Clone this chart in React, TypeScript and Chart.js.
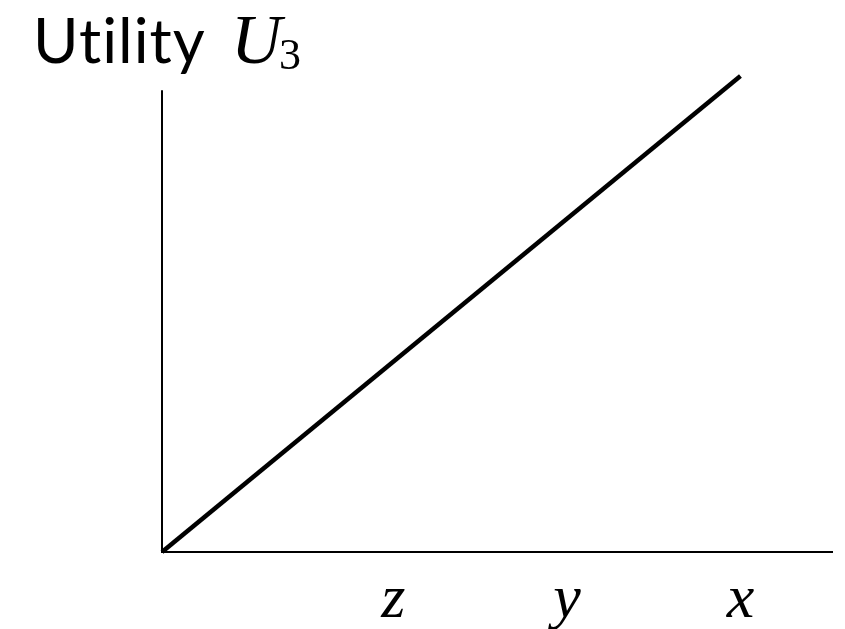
import React, { useEffect, useRef } from "react";
import { Chart, registerables } from "chart.js";

Chart.register(...registerables);

// Data
const lineX = [0, 1];
const lineY = [0, 1];
const tickValues = [0.4, 0.7, 1.0];
const tickLabels = ["z", "y", "x"];
const xMax = 1.16;
const yMax = 1.0;
const yAxisTop = 0.97;
const titleText = "Utility";
const titleSymbol = "U";
const titleSub = "3";

const axesPlugin = {
  id: "customAxes",
  afterDatasetsDraw(chart: any) {
    const { ctx, scales } = chart;
    const xs = scales.x;
    const ys = scales.y;
    const x0 = xs.getPixelForValue(0);
    const y0 = ys.getPixelForValue(0);
    ctx.save();
    ctx.strokeStyle = "#000";
    ctx.lineWidth = 2;
    ctx.lineCap = "butt";
    ctx.beginPath();
    ctx.moveTo(x0, ys.getPixelForValue(yAxisTop));
    ctx.lineTo(x0, y0);
    ctx.lineTo(xs.getPixelForValue(xMax), y0);
    ctx.stroke();

    // tick labels
    ctx.fillStyle = "#000";
    ctx.font = "italic 62px 'Liberation Serif'";
    ctx.textAlign = "center";
    ctx.textBaseline = "alphabetic";
    tickValues.forEach((v, i) => {
      ctx.fillText(tickLabels[i], xs.getPixelForValue(v), y0 + 65);
    });

    // title
    ctx.textAlign = "left";
    ctx.font = "62px Lato";
    (ctx as any).letterSpacing = "1px";
    ctx.fillText(titleText, 33, 63);
    (ctx as any).letterSpacing = "0px";
    ctx.font = "italic 70px 'Liberation Serif'";
    ctx.fillText(titleSymbol, 231, 63);
    ctx.font = "44px 'Liberation Serif'";
    ctx.fillText(titleSub, 279, 69);
    ctx.restore();
  },
};

export default function App() {
  const ref = useRef<HTMLCanvasElement | null>(null);
  useEffect(() => {
    if (!ref.current) return;
    const chart = new Chart(ref.current, {
      type: "scatter",
      data: {
        datasets: [
          {
            data: lineX.map((x, i) => ({ x, y: lineY[i] })),
            showLine: true,
            borderColor: "#000",
            borderWidth: 4.5,
            pointRadius: 0,
            clip: false as any,
            fill: false,
          },
        ],
      },
      options: {
        animation: false,
        responsive: false,
        maintainAspectRatio: false,
        layout: { padding: { left: 162, right: 12, top: 76, bottom: 77 } },
        plugins: { legend: { display: false }, tooltip: { enabled: false }, title: { display: false } },
        scales: {
          x: { type: "linear", min: 0, max: xMax, display: false },
          y: { type: "linear", min: 0, max: yMax, display: false },
        },
      },
      plugins: [axesPlugin],
    });
    return () => chart.destroy();
  }, []);
  return (
    <div style={{ position: "fixed", left: 0, top: 0, width: 845, height: 629, background: "#fff" }}>
      <canvas ref={ref} width={845} height={629} style={{ display: "block" }} />
    </div>
  );
}
